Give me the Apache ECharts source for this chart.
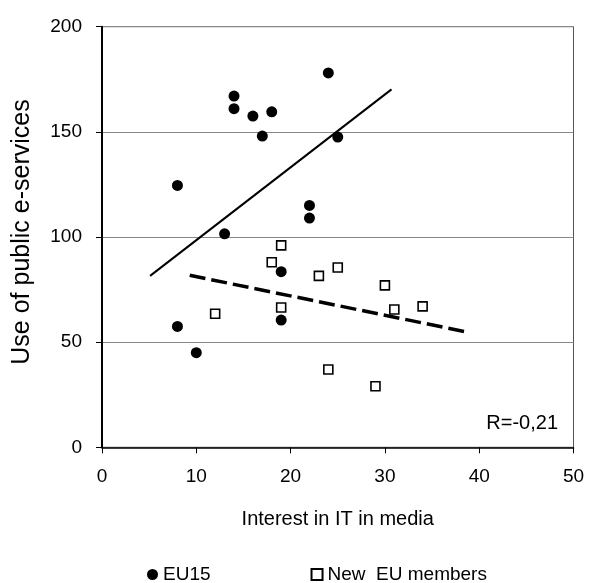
<!DOCTYPE html>
<html>
<head>
<meta charset="utf-8">
<script src="https://cdn.jsdelivr.net/npm/echarts@6/dist/echarts.min.js"></script>
<style>html,body{margin:0;padding:0;background:#fff}#c{width:589px;height:583px}</style>
</head>
<body>
<div id="c"></div>
<script>
var eu15X = [24, 14, 14, 16, 18, 17, 25, 8, 22, 22, 13, 19, 19, 8, 10];
var eu15Y = [178, 167, 161, 157.5, 159.5, 148, 147.5, 124.5, 115, 109, 101.5, 83.5, 60.5, 57.5, 45];
var newX = [19, 18, 23, 25, 12, 19, 24, 30, 31, 34, 29];
var newY = [96, 88, 81.5, 85.5, 63.5, 66.5, 37, 77, 65.5, 67, 29];
var eu15TrendX = [5.1, 30.7];
var eu15TrendY = [81.5, 170.2];
var newTrendX = [9.3, 38.5];
var newTrendY = [81.8, 55];
var xTicks = [0, 10, 20, 30, 40, 50];
var yTicks = [0, 50, 100, 150, 200];
var seriesNames = ['EU15', 'New  EU members'];
var rText = 'R=-0,21';

function pairs(xs, ys) { return xs.map(function (v, i) { return [v, ys[i]]; }); }

var font = 'Liberation Sans, Arial, sans-serif';
var chart = echarts.init(document.getElementById('c'), null, { renderer: 'canvas' });
chart.setOption({
  animation: false,
  backgroundColor: '#fff',
  textStyle: { fontFamily: font, color: '#000' },
  title: {
    text: rText, right: 26, top: 408,
    textStyle: { fontFamily: font, fontSize: 20, fontWeight: 'normal', color: '#000' }
  },
  grid: { left: 102, right: 15.5, top: 26.7, bottom: 135.7, show: true, borderColor: '#555', borderWidth: 1, backgroundColor: '#fff' },
  legend: {
    data: seriesNames, left: 142, top: 560, itemGap: 100, itemWidth: 11, itemHeight: 11,
    textStyle: { fontFamily: font, fontSize: 19, color: '#000' }
  },
  xAxis: {
    type: 'value', min: xTicks[0], max: xTicks[xTicks.length - 1], interval: 10,
    name: 'Interest in IT in media', nameLocation: 'middle', nameGap: 62,
    nameTextStyle: { fontFamily: font, fontSize: 20, color: '#000' },
    axisLine: { lineStyle: { color: '#000', width: 1.5 } },
    axisTick: { show: true, length: 6, lineStyle: { color: '#000' } },
    axisLabel: { fontFamily: font, fontSize: 19, color: '#000', margin: 20 },
    splitLine: { show: false }
  },
  yAxis: {
    type: 'value', min: yTicks[0], max: yTicks[yTicks.length - 1], interval: 50,
    name: 'Use of public e-services', nameLocation: 'middle', nameGap: 67, nameRotate: 90,
    nameTextStyle: { fontFamily: font, fontSize: 25, color: '#000', padding: [0, 0, 0, 10] },
    axisLine: { show: true, lineStyle: { color: '#000', width: 2 } },
    axisTick: { show: true, length: 6, lineStyle: { color: '#000' } },
    axisLabel: { fontFamily: font, fontSize: 19, color: '#000', margin: 20 },
    splitLine: { show: true, lineStyle: { color: '#888', width: 1 } }
  },
  series: [
    {
      name: seriesNames[0], type: 'scatter', data: pairs(eu15X, eu15Y),
      symbol: 'circle', symbolSize: 11, itemStyle: { color: '#000', opacity: 1 }, z: 5
    },
    {
      name: seriesNames[1], type: 'scatter', data: pairs(newX, newY),
      symbol: 'rect', symbolSize: 9, itemStyle: { color: '#fff', borderColor: '#000', borderWidth: 1.6, opacity: 1 }, z: 5
    },
    {
      name: 'EU15 trend', type: 'line', data: pairs(eu15TrendX, eu15TrendY), symbol: 'none',
      lineStyle: { color: '#000', width: 2 }, z: 3, silent: true
    },
    {
      name: 'New trend', type: 'line', data: pairs(newTrendX, newTrendY), symbol: 'none',
      lineStyle: { color: '#000', width: 3.5, type: [16, 6] }, z: 3, silent: true
    }
  ]
});
</script>
</body>
</html>
